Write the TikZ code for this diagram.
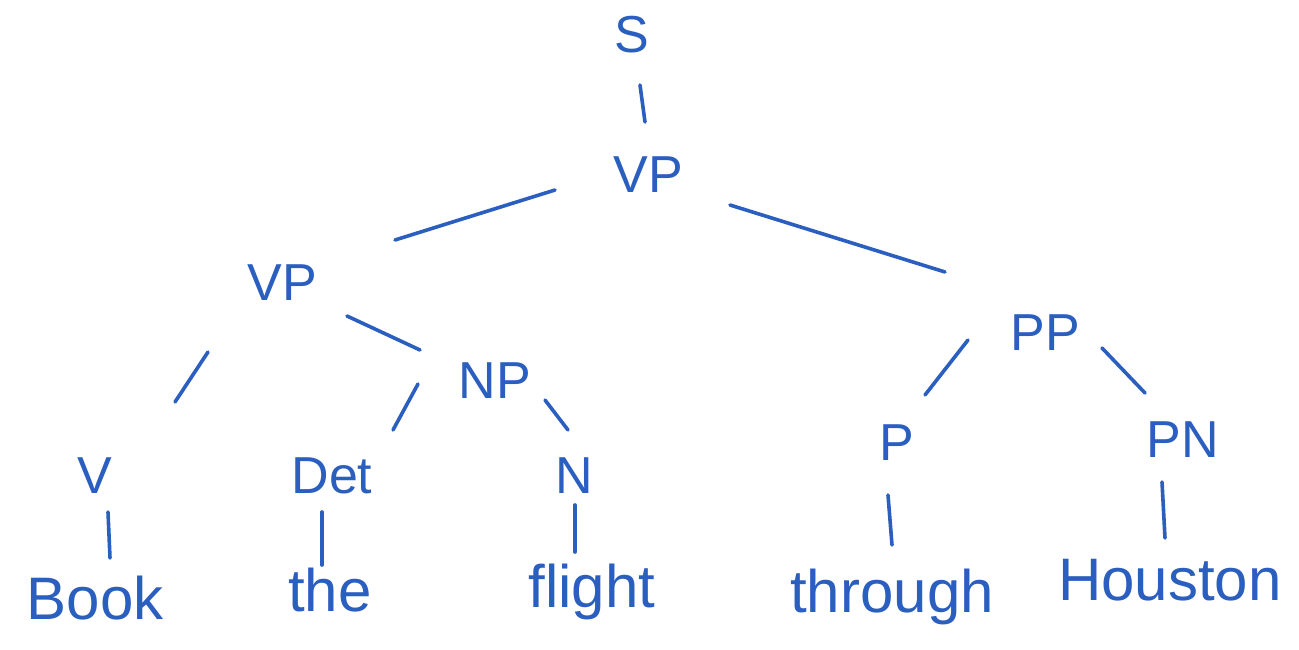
\documentclass[tikz,border=0pt]{standalone}
\usepackage{fontspec}
\usetikzlibrary{calc}
\setmainfont{Liberation Sans}
\definecolor{ink}{HTML}{2A5FBF}
\begin{document}
\begin{tikzpicture}[x=1pt,y=-1pt,
  lab/.style={text=ink,font=\fontsize{52}{56}\selectfont,inner sep=2pt},
  word/.style={text=ink,font=\fontsize{60}{64}\selectfont,inner sep=2pt},
  br/.style={draw=ink,line width=3.6pt,line cap=round}]
\useasboundingbox (0,0) rectangle (1299,650);
\fill[white] (0,0) rectangle (1299,650);
% nonterminals
\node[lab] (S) at (632,35) {S};
\node[lab] (VP1) at (648,175) {VP};
\node[lab] (VP2) at (282,283) {VP};
\node[lab] (NP) at (495,381) {NP};
\node[lab] (PP) at (1045,333) {PP};
\node[lab] (V) at (95,476) {V};
\node[lab] (Det) at (332,476) {Det};
\node[lab] (N) at (574,476) {N};
\node[lab] (P) at (897,443) {P};
\node[lab] (PN) at (1183,440) {PN};
% words
\node[word] (w1) at (95,598) {Book};
\node[word] (w2) at (330,590) {the};
\node[word] (w3) at (592,592) {flight};
\node[word] (w4) at (892,597) {through};
\node[word] (w5) at (1170,580) {Houston};
% branches
\draw[br] ($(S)+(8,50)$) -- ($(VP1)+(-3,-53)$);
\draw[br] ($(VP1)+(-93,15)$) -- ($(VP2)+(113,-43)$);
\draw[br] ($(VP1)+(82,30)$) -- ($(PP)+(-100,-61)$);
\draw[br] ($(VP2)+(-74,69)$) -- ($(V)+(80,-74)$);
\draw[br] ($(VP2)+(65,33)$) -- ($(NP)+(-75,-31)$);
\draw[br] ($(NP)+(-77,3)$) -- ($(Det)+(61,-46)$);
\draw[br] ($(NP)+(50,19)$) -- ($(N)+(-6,-46)$);
\draw[br] ($(PP)+(-77,7)$) -- ($(P)+(28,-48)$);
\draw[br] ($(PP)+(57,15)$) -- ($(PN)+(-38,-47)$);
\draw[br] ($(V)+(13,36)$) -- ($(w1)+(15,-40)$);
\draw[br] ($(Det)+(-10,36)$) -- ($(w2)+(-8,-25)$);
\draw[br] ($(N)+(1,29)$) -- ($(w3)+(-17,-40)$);
\draw[br] ($(P)+(-9,52)$) -- ($(w4)+(0,-52)$);
\draw[br] ($(PN)+(-21,42)$) -- ($(w5)+(-5,-42)$);
\end{tikzpicture}
\end{document}
